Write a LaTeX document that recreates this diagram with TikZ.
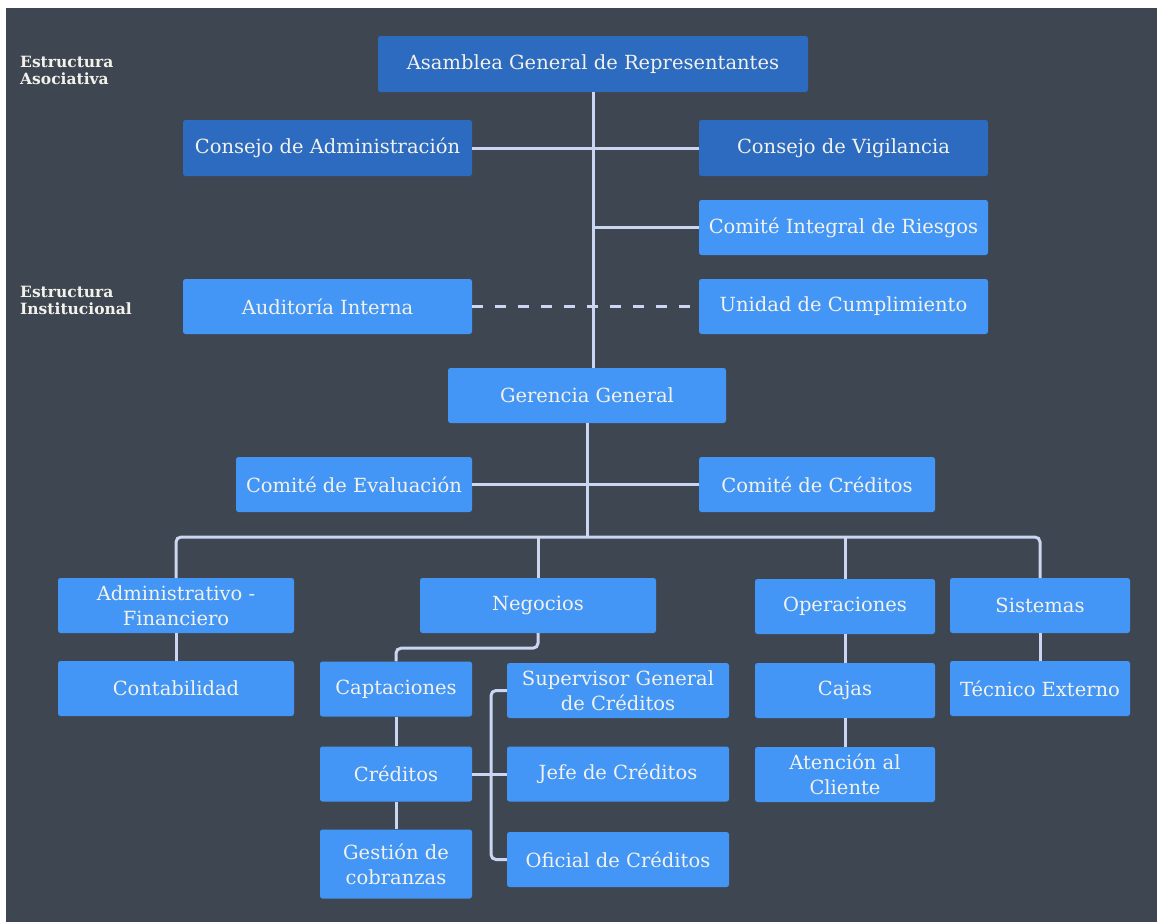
\documentclass[tikz,border=0pt]{standalone}
\usepackage{fontspec}
\setmainfont{DejaVu Serif}
\usetikzlibrary{positioning}
\definecolor{fondo}{HTML}{3E4651}
\definecolor{azul}{HTML}{4396F5}
\definecolor{azulosc}{HTML}{2C6BBF}
\definecolor{linea}{HTML}{CBD6F2}
\definecolor{texto}{HTML}{F3F2EA}

\begin{document}
\begin{tikzpicture}[x=1pt,y=-1pt,
  caja/.style={fill=azul, text=texto, rounded corners=2.5pt, inner sep=0pt,
               align=center, font=\fontsize{19.5}{25}\selectfont},
  cajaosc/.style={caja, fill=azulosc},
  etiqueta/.style={text=texto, align=left, anchor=north west, inner sep=0pt,
                   font=\bfseries\fontsize{15.5}{17}\selectfont},
  enlace/.style={draw=linea, line width=3pt, rounded corners=5pt}]
\useasboundingbox (0,0) rectangle (1157,922);
\fill[white] (0,0) rectangle (1157,922);
\fill[fondo] (6,8) rectangle (1157,922);

\node[etiqueta] (asoc) at (20,56) {Estructura\\Asociativa};
\node[etiqueta] (inst) at (20,286) {Estructura\\Institucional};

% estructura asociativa
\node[cajaosc, minimum width=430pt, minimum height=56pt] (asamblea) at (593,64) {Asamblea General de Representantes};
\node[cajaosc, minimum width=289pt, minimum height=56pt] (cadmin) at (327.5,148) {Consejo de Administración};
\node[cajaosc, minimum width=289pt, minimum height=56pt] (cvig) at (843.5,148) {Consejo de Vigilancia};
\node[caja, minimum width=289pt, minimum height=55pt] (riesgos) at (843.5,227.5) {Comité Integral de Riesgos};
\node[caja, minimum width=289pt, minimum height=55pt] (auditoria) at (327.5,306.5) {Auditoría Interna};
\node[caja, minimum width=289pt, minimum height=55pt] (cumpl) at (843.5,306.5) {Unidad de Cumplimiento};

% estructura institucional
\node[caja, minimum width=278pt, minimum height=55pt] (gerencia) at (587,395.5) {Gerencia General};
\node[caja, minimum width=236pt, minimum height=55pt] (ceval) at (354,484.5) {Comité de Evaluación};
\node[caja, minimum width=236pt, minimum height=55pt] (ccred) at (817,484.5) {Comité de Créditos};

\node[caja, minimum width=236pt, minimum height=55pt] (admfin) at (176,605.5) {Administrativo -\\Financiero};
\node[caja, minimum width=236pt, minimum height=55pt] (negocios) at (538,605.5) {Negocios};
\node[caja, minimum width=180pt, minimum height=55pt] (operac) at (845,606.5) {Operaciones};
\node[caja, minimum width=180pt, minimum height=55pt] (sistemas) at (1040,605.5) {Sistemas};

\node[caja, minimum width=236pt, minimum height=55pt] (contab) at (176,688.5) {Contabilidad};
\node[caja, minimum width=152pt, minimum height=55pt] (captac) at (396,689) {Captaciones};
\node[caja, minimum width=152pt, minimum height=55pt] (creditos) at (396,774) {Créditos};
\node[caja, minimum width=152pt, minimum height=69pt] (gestion) at (396,864) {Gestión de\\cobranzas};
\node[caja, minimum width=222pt, minimum height=55pt] (superv) at (618,690.5) {Supervisor General\\de Créditos};
\node[caja, minimum width=222pt, minimum height=55pt] (jefe) at (618,774) {Jefe de Créditos};
\node[caja, minimum width=222pt, minimum height=55pt] (oficial) at (618,859.5) {Oficial de Créditos};
\node[caja, minimum width=180pt, minimum height=55pt] (cajas) at (845,690.5) {Cajas};
\node[caja, minimum width=180pt, minimum height=55pt] (atencion) at (845,774.5) {Atención al\\Cliente};
\node[caja, minimum width=180pt, minimum height=55pt] (tecnico) at (1040,688.5) {Técnico Externo};

\coordinate (eje) at (593,0);
\coordinate (bus) at (0,537);
\coordinate (rama) at (491,0);

% conectores
\draw[enlace] (eje |- asamblea.south) -- (eje |- gerencia.north);
\draw[enlace] (cadmin) -- (cvig);
\draw[enlace] (eje |- riesgos.west) -- (riesgos.west);
\draw[enlace, dash pattern=on 11pt off 12pt, rounded corners=0pt] (auditoria.east) -- (cumpl.west);
\draw[enlace] (gerencia.south) -- (gerencia.south |- bus);
\draw[enlace] (ceval) -- (ccred);
\draw[enlace] (admfin.north) |- (bus -| sistemas.north) -- (sistemas.north);
\draw[enlace] (negocios.north |- bus) -- (negocios.north);
\draw[enlace] (operac.north |- bus) -- (operac.north);
\draw[enlace] (admfin) -- (contab);
\draw[enlace] (negocios.south) -- ++(0,15) -| (captac.north);
\draw[enlace] (captac) -- (creditos) -- (gestion);
\draw[enlace] (superv.west) -| (rama |- oficial.west) -- (oficial.west);
\draw[enlace] (creditos.east) -- (jefe.west);
\draw[enlace] (operac) -- (cajas) -- (atencion);
\draw[enlace] (sistemas) -- (tecnico);
\end{tikzpicture}
\end{document}
